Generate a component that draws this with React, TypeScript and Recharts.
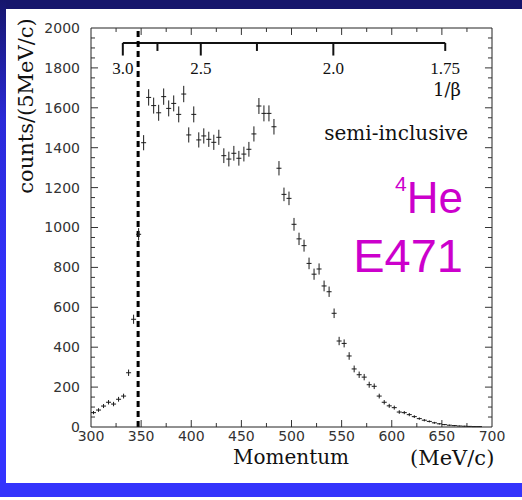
import React from 'react';
import {
  ScatterChart,
  Scatter,
  XAxis,
  YAxis,
  ErrorBar,
  ReferenceLine,
  ReferenceDot,
} from 'recharts';

// Momentum bin centres (MeV/c), 5 MeV/c bins
const MOMENTUM = [
  302.5, 307.5, 312.5, 317.5, 322.5, 327.5, 332.5, 337.5, 342.5, 347.5,
  352.5, 357.5, 362.5, 367.5, 372.5, 377.5, 382.5, 387.5, 392.5, 397.5,
  402.5, 407.5, 412.5, 417.5, 422.5, 427.5, 432.5, 437.5, 442.5, 447.5,
  452.5, 457.5, 462.5, 467.5, 472.5, 477.5, 482.5, 487.5, 492.5, 497.5,
  502.5, 507.5, 512.5, 517.5, 522.5, 527.5, 532.5, 537.5, 542.5, 547.5,
  552.5, 557.5, 562.5, 567.5, 572.5, 577.5, 582.5, 587.5, 592.5, 597.5,
  602.5, 607.5, 612.5, 617.5, 622.5, 627.5, 632.5, 637.5, 642.5, 647.5,
  652.5, 657.5, 662.5, 667.5, 672.5, 677.5, 682.5, 687.5,
];

// Counts per bin
const COUNTS = [
  72, 85, 105, 124, 115, 139, 155, 272, 540, 966,
  1425, 1652, 1611, 1575, 1656, 1597, 1622, 1567, 1669, 1464,
  1567, 1439, 1459, 1442, 1427, 1452, 1360, 1343, 1372, 1347,
  1368, 1392, 1469, 1609, 1572, 1572, 1505, 1297, 1166, 1146,
  1016, 943, 909, 820, 766, 792, 707, 678, 570, 431,
  419, 356, 291, 262, 250, 212, 204, 155, 124, 106,
  97, 75, 72, 62, 52, 42, 34, 28, 21, 16,
  12, 9, 7, 5, 4, 3, 2, 2,
];

// Statistical error per bin
const COUNT_ERR = [
  8, 9, 10, 11, 11, 12, 12, 16, 23, 31,
  38, 41, 40, 40, 41, 40, 40, 40, 41, 38,
  40, 38, 38, 38, 38, 38, 37, 37, 37, 37,
  37, 37, 38, 40, 40, 40, 39, 36, 34, 34,
  32, 31, 30, 29, 28, 28, 27, 26, 24, 21,
  20, 19, 17, 16, 16, 15, 14, 12, 11, 10,
  10, 9, 8, 8, 7, 6, 6, 5, 5, 4,
  3, 3, 3, 2, 2, 2, 1, 1,
];

const BIN_HALF_WIDTH = 2.5;

const X_TICKS = [300, 350, 400, 450, 500, 550, 600, 650, 700];
const X_MINOR = [325, 375, 425, 475, 525, 575, 625, 675];
const Y_TICKS = [0, 200, 400, 600, 800, 1000, 1200, 1400, 1600, 1800, 2000];
const Y_MINOR = [
  50, 100, 150, 250, 300, 350, 450, 500, 550, 650, 700, 750, 850, 900, 950,
  1050, 1100, 1150, 1250, 1300, 1350, 1450, 1500, 1550, 1650, 1700, 1750,
  1850, 1900, 1950,
];

// Inverse-velocity scale drawn inside the frame
const PROTON_MASS = 938.3;
const INV_BETA_MAJOR = [3.0, 2.5, 2.0];
const INV_BETA_MINOR = [2.75, 2.25, 1.75];
const INV_BETA_LABELS = ['3.0', '2.5', '2.0', '1.75'];
const INV_BETA_LABEL_VALUES = [3.0, 2.5, 2.0, 1.75];
const CUT_MOMENTUM = 347;

const momentumAt = (invBeta: number) => PROTON_MASS / Math.sqrt(invBeta * invBeta - 1);

const data = MOMENTUM.map((p, i) => ({
  p,
  n: COUNTS[i],
  ey: COUNT_ERR[i],
  ex: BIN_HALF_WIDTH,
}));

const AXIS_COLOR = '#222';
const TICK_FONT = { fill: '#333', fontSize: 14, fontFamily: 'DejaVu Sans' };

export default function App() {
  const scaleLine = 1925;
  const betaLo = momentumAt(3.0);
  const betaHi = momentumAt(1.75);

  return (
    <div
      style={{
        position: 'absolute',
        left: 0,
        top: 0,
        width: 522,
        height: 500,
        background: '#ffffff',
        overflow: 'hidden',
      }}
    >
      {/* slide frame */}
      <div style={{ position: 'absolute', left: 0, top: 0, width: 522, height: 9, background: '#16166c' }} />
      <div
        style={{
          position: 'absolute',
          left: 0,
          top: 0,
          width: 6,
          height: 483,
          background: 'linear-gradient(#16166c 0px, #2a2ad8 120px, #3333ff 300px)',
        }}
      />
      <div style={{ position: 'absolute', left: 0, top: 483, width: 522, height: 14, background: '#3434fc' }} />

      <div style={{ position: 'absolute', left: 0, top: 0 }}>
        <ScatterChart width={522} height={500} margin={{ top: 28, right: 30, left: 31, bottom: 43 }}>
          <XAxis
            type="number"
            dataKey="p"
            domain={[300, 700]}
            ticks={X_TICKS}
            interval={0}
            allowDataOverflow
            height={30}
            tickLine={false}
            tickSize={0}
            tickMargin={4}
            axisLine={{ stroke: AXIS_COLOR }}
            tick={TICK_FONT}
          />
          <YAxis
            type="number"
            dataKey="n"
            domain={[0, 2000]}
            ticks={Y_TICKS}
            interval={0}
            allowDataOverflow
            width={60}
            tickLine={false}
            tickSize={0}
            tickMargin={11}
            axisLine={{ stroke: AXIS_COLOR }}
            tick={TICK_FONT}
          />

          {/* frame top and right */}
          <ReferenceLine y={2000} stroke={AXIS_COLOR} />
          <ReferenceLine x={700} stroke={AXIS_COLOR} />

          {/* inward tick marks on all four sides */}
          {X_TICKS.slice(1, -1).map((v) => (
            <ReferenceLine key={`xb${v}`} segment={[{ x: v, y: 0 }, { x: v, y: 35 }]} stroke="#333" />
          ))}
          {X_TICKS.slice(1, -1).map((v) => (
            <ReferenceLine key={`xt${v}`} segment={[{ x: v, y: 2000 }, { x: v, y: 1965 }]} stroke="#333" />
          ))}
          {X_MINOR.map((v) => (
            <ReferenceLine key={`xbm${v}`} segment={[{ x: v, y: 0 }, { x: v, y: 20 }]} stroke="#333" />
          ))}
          {X_MINOR.map((v) => (
            <ReferenceLine key={`xtm${v}`} segment={[{ x: v, y: 2000 }, { x: v, y: 1980 }]} stroke="#333" />
          ))}
          {Y_TICKS.slice(1, -1).map((v) => (
            <ReferenceLine key={`yl${v}`} segment={[{ x: 300, y: v }, { x: 307, y: v }]} stroke="#333" />
          ))}
          {Y_TICKS.slice(1, -1).map((v) => (
            <ReferenceLine key={`yr${v}`} segment={[{ x: 700, y: v }, { x: 693, y: v }]} stroke="#333" />
          ))}
          {Y_MINOR.map((v) => (
            <ReferenceLine key={`ylm${v}`} segment={[{ x: 300, y: v }, { x: 304, y: v }]} stroke="#333" />
          ))}
          {Y_MINOR.map((v) => (
            <ReferenceLine key={`yrm${v}`} segment={[{ x: 700, y: v }, { x: 696, y: v }]} stroke="#333" />
          ))}

          {/* 1/beta scale */}
          <ReferenceLine
            segment={[{ x: betaLo, y: scaleLine }, { x: betaHi, y: scaleLine }]}
            stroke="#111"
            strokeWidth={2}
          />
          {INV_BETA_MAJOR.map((b) => (
            <ReferenceLine
              key={`bM${b}`}
              segment={[{ x: momentumAt(b), y: scaleLine }, { x: momentumAt(b), y: 1862 }]}
              stroke="#111"
              strokeWidth={2}
            />
          ))}
          {INV_BETA_MINOR.map((b) => (
            <ReferenceLine
              key={`bm${b}`}
              segment={[{ x: momentumAt(b), y: scaleLine }, { x: momentumAt(b), y: 1885 }]}
              stroke="#111"
              strokeWidth={2}
            />
          ))}
          {INV_BETA_LABEL_VALUES.map((b, i) => (
            <ReferenceDot
              key={`bl${b}`}
              x={momentumAt(b)}
              y={1800}
              r={1}
              fill="none"
              stroke="none"
              label={{
                value: INV_BETA_LABELS[i],
                position: 'center',
                fill: '#111',
                fontSize: 17,
                fontFamily: 'Liberation Serif',
              }}
            />
          ))}

          {/* cut position */}
          <ReferenceLine x={CUT_MOMENTUM} stroke="#000" strokeWidth={3} strokeDasharray="6 4" />

          <Scatter data={data} isAnimationActive={false} shape={() => <g />}>
            <ErrorBar dataKey="ey" direction="y" width={0} stroke="#1a1a1a" strokeWidth={1} isAnimationActive={false} />
            <ErrorBar dataKey="ex" direction="x" width={0} stroke="#1a1a1a" strokeWidth={1} isAnimationActive={false} />
          </Scatter>
        </ScatterChart>
      </div>

      <svg
        width={522}
        height={500}
        style={{ position: 'absolute', left: 0, top: 0, pointerEvents: 'none' }}
      >
        <text
          transform="translate(33,106) rotate(-90)"
          textAnchor="middle"
          fontFamily="DejaVu Serif"
          fontSize={21}
          fill="#111"
        >
          counts/(5MeV/c)
        </text>
        <text x={233} y={464} fontFamily="DejaVu Serif" fontSize={20} fill="#111">
          Momentum
        </text>
        <text x={410} y={465} fontFamily="DejaVu Serif" fontSize={21} fill="#111">
          (MeV/c)
        </text>
        <text x={447} y={96} textAnchor="middle" fontFamily="DejaVu Serif" fontSize={18} fill="#111">
          1/β
        </text>
        <text x={468} y={140} textAnchor="end" fontFamily="DejaVu Serif" fontSize={20} fill="#111">
          semi-inclusive
        </text>
        <text x={463} y={213} textAnchor="end" fontFamily="Liberation Sans" fill="#cc00cc">
          <tspan fontSize={21} dy={-22}>4</tspan>
          <tspan fontSize={44} dy={22}>He</tspan>
        </text>
        <text x={463} y={272} textAnchor="end" fontFamily="Liberation Sans" fontSize={47} fill="#cc00cc">
          E471
        </text>
      </svg>
    </div>
  );
}
